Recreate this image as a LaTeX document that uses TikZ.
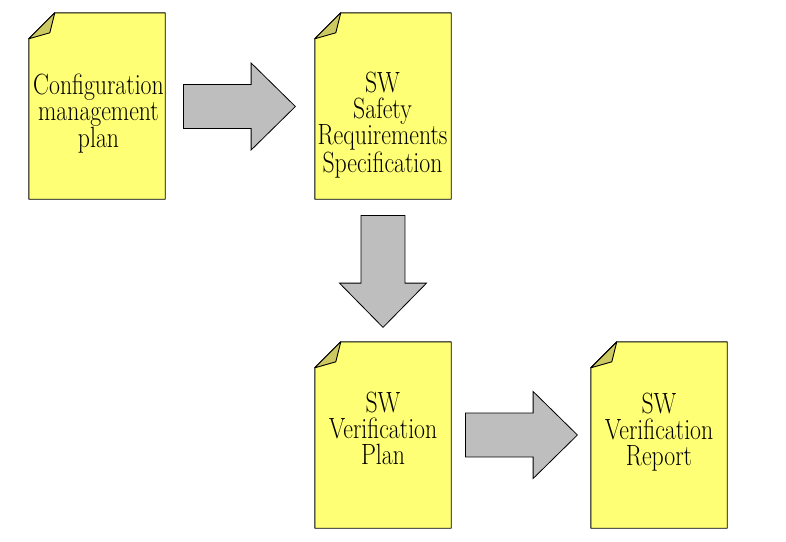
\documentclass[tikz,border=0pt]{standalone}
\usepackage{tikz}
\usetikzlibrary{calc, shapes.arrows}
\definecolor{sheetyellow}{RGB}{255,255,117}
\definecolor{foldkhaki}{RGB}{204,200,98}
\definecolor{arrowgray}{RGB}{190,190,190}
\tikzset{
    sheet/.style={minimum width=136pt, minimum height=186pt, inner sep=0pt},
    sheetline/.style={draw=black, fill=sheetyellow, line width=0.9pt, line join=round},
    foldline/.style={draw=black, fill=foldkhaki, line width=0.9pt, line join=round},
    sheettext/.style={align=center, inner sep=0pt, transform shape, xscale=0.99, yscale=1.22,
        font=\fontsize{24}{21.3}\selectfont},
    blockarrow/.style={single arrow, draw=black, fill=arrowgray, line width=0.8pt, anchor=tail,
        minimum height=112pt, minimum width=87pt, inner sep=0pt, inner ysep=21.5pt,
        single arrow head extend=21.5pt, single arrow tip angle=89, single arrow head indent=0pt}
}
% one yellow sheet with folded corner: name, centre, text shift, text
\newcommand{\sheetnode}[4]{
    \node[sheet] (#1) at (#2) {};
    \draw[sheetline] ($(#1.north west)+(0,26)$) -- ($(#1.north west)+(26,0)$) -- (#1.north east) -- (#1.south east) -- (#1.south west) -- cycle;
    \draw[foldline] ($(#1.north west)+(0,26)$) -- ($(#1.north west)+(26,0)$) -- ($(#1.north west)+(21,20)$) -- cycle;
    \node[sheettext] (#1text) at ($(#1.center)+(#3)$) {#4};
}
\begin{document}
\begin{tikzpicture}[x=1pt, y=-1pt]
    \useasboundingbox (0,0) rectangle (786,541);

    % Documents
    \sheetnode{config}{97,106}{1.5,7.5}{Configuration\\management\\plan}
    \sheetnode{safety}{383,106}{-0.5,19}{SW\\Safety\\Requirements\\Specification}
    \sheetnode{verplan}{383,435}{0,-6.5}{SW\\Verification\\Plan}
    \sheetnode{verreport}{659,435}{0,-3}{SW\\Verification\\Report}

    % Block arrows between documents
    \node[blockarrow] (configtosafety) at (183,106.5) {};
    \node[blockarrow, rotate=-90] (safetytoplan) at (383,215) {};
    \node[blockarrow] (plantoreport) at (465,435) {};
\end{tikzpicture}
\end{document}
